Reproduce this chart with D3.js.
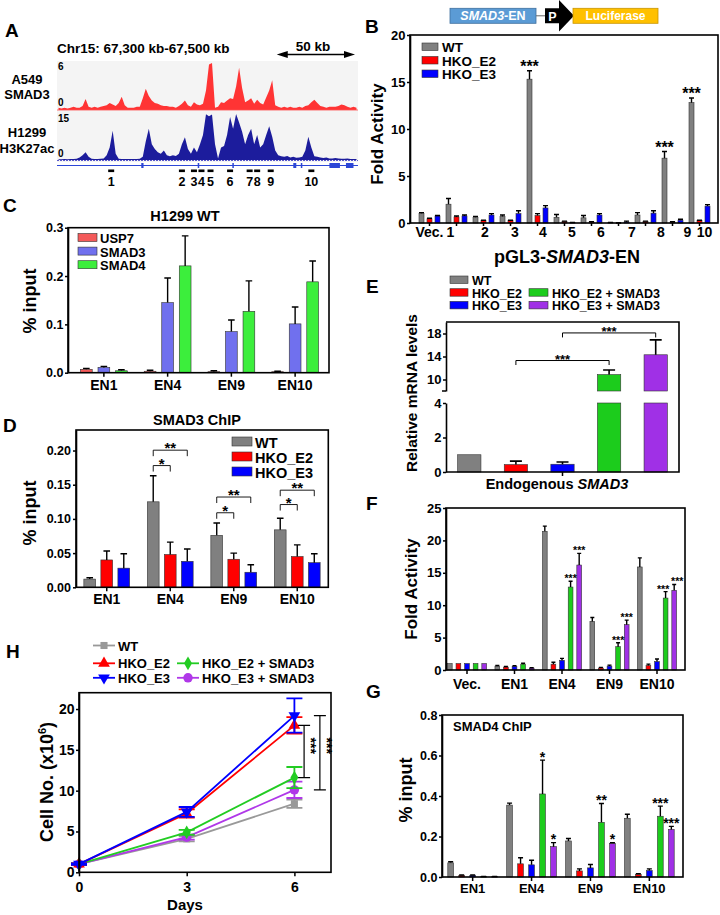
<!DOCTYPE html>
<html><head><meta charset="utf-8">
<script src="https://cdn.jsdelivr.net/npm/d3@7/dist/d3.min.js"></script>
<style>html,body{margin:0;padding:0;background:#fff}svg{display:block}</style>
</head><body>
<svg id="chart" width="720" height="915"></svg>
<script>
// ================= DATA =================
// Panel A: genome tracks (2 kb bins from 67,300 kb)
const trackStartKb = 67300, trackEndKb = 67500, binKb = 2;
const smad3Signal = [
 0.3,0.2,0.3,0.2,0.3,0.4,0.3,0.3,0.5,1.4,
 0.4,0.3,0.4,0.3,0.4,0.5,0.6,0.9,0.7,0.5,
 0.9,1.7,0.6,0.3,0.3,0.3,0.4,0.4,1.5,2.7,
 1.8,1.2,0.9,0.8,0.6,0.5,0.5,0.4,0.4,0.3,
 0.5,0.8,1.2,0.6,0.4,1.0,0.7,0.6,0.8,2.5,
 5.8,6.0,0.3,0.4,1.0,0.9,1.2,1.5,1.4,3.0,
 5.4,2.8,1.0,1.2,1.5,0.8,1.3,0.9,0.7,1.6,
 2.5,3.8,0.6,0.4,0.3,0.4,0.3,0.4,0.3,0.3,
 0.4,0.3,0.5,0.6,1.0,1.3,0.9,0.5,0.4,0.3,
 0.4,0.4,0.4,0.5,0.7,0.6,0.4,0.3,0.4,0.3];
const h3k27acSignal = [
 0.2,0.2,0.3,0.2,0.3,0.3,0.4,0.8,1.5,2.5,
 1.0,0.4,0.3,0.3,0.4,0.5,1.5,4.0,9.3,2.0,
 0.4,0.3,0.3,0.3,0.3,0.3,0.3,0.4,1.0,6.0,
 10.0,5.0,3.5,2.5,2.0,3.0,1.5,1.2,1.5,1.3,
 2.0,5.0,7.3,3.5,2.0,4.0,2.5,5.0,8.0,14.6,
 14.0,14.5,5.0,0.5,4.0,4.5,8.0,13.7,10.0,14.7,
 12.0,9.0,5.0,8.0,10.0,5.0,8.0,4.0,5.0,8.0,
 10.8,7.4,3.0,1.5,1.2,1.0,1.3,0.8,1.0,0.7,
 0.8,1.0,3.0,7.4,4.0,1.2,1.0,0.8,0.6,0.8,
 0.5,0.5,0.6,0.5,0.4,0.4,0.5,0.3,0.3,0.3];
const enhancerNames = ["1","2","3","4","5","6","7","8","9","10"];
const enhancerKb = [67336,67383,67391,67396,67402,67415,67428,67433,67442,67469];
const exonStartKb = [67356,67393.5,67416.5,67457,67462,67481,67492];
const exonEndKb   = [67357.5,67394.5,67417.5,67459,67463,67488,67497];

// Panel B
const bCats = ["Vec.","1","2","3","4","5","6","7","8","9","10"];
const bNames = ["WT","HKO_E2","HKO_E3"];
const bWT    = [1.0,2.0,0.6,0.7,15.3,0.6,0.55,0.05,0.85,6.9,12.8];
const bWTerr = [0.1,0.6,0.1,0.15,0.9,0.3,0.25,0.02,0.25,0.7,0.5];
const bE2    = [0.45,0.65,0.25,0.25,0.8,0.15,0.1,0.02,0.15,0.1,0.25];
const bE2err = [0.05,0.1,0.05,0.05,0.2,0.05,0.05,0.01,0.05,0.03,0.05];
const bE3    = [0.75,0.75,0.85,1.0,1.6,0.05,0.85,0.1,1.05,0.3,1.8];
const bE3err = [0.05,0.1,0.15,0.3,0.25,0.02,0.15,0.1,0.25,0.1,0.15];
const bWTstars = ["","","","","***","","","","","***","***"];

// Panel C
const cCats = ["EN1","EN4","EN9","EN10"];
const cNames = ["USP7","SMAD3","SMAD4"];
const cUSP7 = [0.007,0.003,0.002,0.002], cUSP7err = [0.002,0.002,0.002,0.001];
const cSMAD3 = [0.011,0.145,0.085,0.101], cSMAD3err = [0.002,0.051,0.024,0.035];
const cSMAD4 = [0.004,0.221,0.127,0.188], cSMAD4err = [0.002,0.062,0.063,0.043];

// Panel D
const dCats = ["EN1","EN4","EN9","EN10"];
const dNames = ["WT","HKO_E2","HKO_E3"];
const dWT = [0.012,0.125,0.076,0.084], dWTerr = [0.002,0.038,0.018,0.017];
const dE2 = [0.040,0.048,0.041,0.045], dE2err = [0.013,0.018,0.009,0.017];
const dE3 = [0.028,0.038,0.022,0.036], dE3err = [0.021,0.018,0.011,0.013];
const dSigCat = ["EN4","EN4","EN9","EN9","EN10","EN10"];
const dSigTo = [1,2,1,2,1,2];
const dSigLevel = [0.178,0.2005,0.109,0.132,0.121,0.142];
const dSigText = ["*","**","*","**","*","**"];

// Panel E
const eNames = ["WT","HKO_E2","HKO_E3","HKO_E2 + SMAD3","HKO_E3 + SMAD3"];
const eVals = [1.0,0.43,0.45,10.85,14.3];
const eErrs = [0,0.2,0.13,0.8,2.6];
const eSigFrom = [1,2], eSigTo = [3,4], eSigLevel = [13.3,18.1];

// Panel F
const fCats = ["Vec.","EN1","EN4","EN9","EN10"];
const fWT  = [1.0,0.6,21.4,7.5,15.9], fWTerr  = [0,0.1,0.8,0.6,1.4];
const fE2  = [1.0,0.45,0.9,0.3,0.7],  fE2err  = [0,0.1,0.3,0.1,0.2];
const fE3  = [1.0,0.55,1.5,0.6,1.3],  fE3err  = [0,0.1,0.3,0.15,0.4];
const fE2S = [1.0,0.9,12.8,3.6,11.1], fE2Serr = [0,0.15,0.9,0.6,1.0];
const fE3S = [1.0,0.3,16.2,7.0,12.3], fE3Serr = [0,0.05,1.8,0.7,0.9];
const fE2Sstars = ["","","***","***","***"];
const fE3Sstars = ["","","***","***","***"];

// Panel G
const gCats = ["EN1","EN4","EN9","EN10"];
const gWT  = [0.07,0.355,0.178,0.29],  gWTerr  = [0.005,0.01,0.012,0.02];
const gE2  = [0.008,0.065,0.03,0.012], gE2err  = [0.002,0.03,0.01,0.004];
const gE3  = [0.008,0.06,0.045,0.032], gE3err  = [0.002,0.023,0.017,0.008];
const gE2S = [0.002,0.41,0.27,0.30],   gE2Serr = [0.001,0.167,0.093,0.05];
const gE3S = [0.002,0.15,0.165,0.235], gE3Serr = [0.001,0.02,0.004,0.015];
const gE2Sstars = ["","*","**","***"];
const gE3Sstars = ["","*","*","***"];

// Panel H
const hDays = [0,3,6];
const hNames = ["WT","HKO_E2","HKO_E3","HKO_E2 + SMAD3","HKO_E3 + SMAD3"];
const hWT  = [1.0,4.1,8.4],   hWTerr  = [0.1,0.3,0.5];
const hE2  = [1.0,7.2,18.0],  hE2err  = [0.1,0.5,1.0];
const hE3  = [1.0,7.4,19.2],  hE3err  = [0.1,0.6,2.1];
const hE2S = [1.0,4.9,11.6],  hE2Serr = [0.1,0.3,1.3];
const hE3S = [1.0,4.3,10.1],  hE3Serr = [0.1,0.3,1.0];
const hSigX = [6.27,6.71];

// ================= DRAWING =================
const svg = d3.select("#chart");
const FONT = '"Liberation Sans", Arial, Helvetica, sans-serif';
svg.attr("font-family", FONT).attr("font-weight", "bold");

const GRAY = "#808080", RED = "#ff0000", BLUE = "#0000ff", GREEN = "#1ccc1c", PURPLE = "#a030e6";

function label(x, y, s, fs, anchor) {
  return svg.append("text").attr("x", x).attr("y", y).attr("font-size", fs)
    .attr("text-anchor", anchor || "start").text(s);
}
function richText(x, y, fs, parts, anchor, rotate) {
  const t = svg.append("text").attr("font-size", fs).attr("text-anchor", anchor || "middle");
  if (rotate) t.attr("transform", `translate(${x},${y}) rotate(-90)`).attr("dy", "0.35em");
  else t.attr("x", x).attr("y", y);
  parts.forEach(p => {
    const ts = t.append("tspan").text(p.t);
    if (p.i) ts.attr("font-style", "italic");
    if (p.fs) ts.attr("font-size", p.fs);
    if (p.dy) ts.attr("dy", p.dy);
  });
  return t;
}
function frame(x0, y0, x1, y1) {
  svg.append("rect").attr("x", x0).attr("y", y0).attr("width", x1 - x0).attr("height", y1 - y0)
    .attr("fill", "none").attr("stroke", "#000").attr("stroke-width", 1.6);
}
function axisL(scale, x, vals, fmt, fs, size, pad) {
  const g = svg.append("g").attr("transform", `translate(${x},0)`)
    .call(d3.axisLeft(scale).tickValues(vals).tickFormat(fmt).tickSize(size).tickSizeOuter(0).tickPadding(pad));
  g.attr("font-family", FONT).attr("font-size", fs).attr("font-weight", "bold");
  g.select(".domain").attr("stroke-width", 1.6);
  g.selectAll(".tick line").attr("stroke-width", 1.5);
  return g;
}
function axisB(scale, y, fs, size, pad, vals, fmt) {
  const ax = d3.axisBottom(scale).tickSize(size).tickSizeOuter(0).tickPadding(pad);
  if (vals) ax.tickValues(vals);
  if (fmt) ax.tickFormat(fmt);
  const g = svg.append("g").attr("transform", `translate(0,${y})`).call(ax);
  g.attr("font-family", FONT).attr("font-size", fs).attr("font-weight", "bold");
  g.select(".domain").remove();
  g.selectAll(".tick line").attr("stroke-width", 1.5);
  return g;
}
function groupedBars(cats, seriesVals, seriesErrs, colors, outer, inner, y, capW, stroke) {
  const g = svg.append("g");
  const cx = (i, s) => outer(cats[i]) + outer.bandwidth() / 2 + inner(s) + inner.bandwidth() / 2;
  seriesVals.forEach((vals, s) => {
    const data = vals.map((v, i) => ({ v, e: seriesErrs[s][i], i }));
    g.append("g").selectAll("rect").data(data).join("rect")
      .attr("x", d => cx(d.i, s) - inner.bandwidth() / 2)
      .attr("y", d => y(d.v))
      .attr("width", inner.bandwidth())
      .attr("height", d => Math.max(0.6, y(0) - y(d.v)))
      .attr("fill", colors[s]).attr("stroke", stroke || "#333").attr("stroke-width", 0.6);
    g.append("g").selectAll("path").data(data.filter(d => d.e > 0)).join("path")
      .attr("d", d => `M${cx(d.i, s)},${y(d.v)}V${y(d.v + d.e)}M${cx(d.i, s) - capW},${y(d.v + d.e)}H${cx(d.i, s) + capW}`)
      .attr("stroke", "#000").attr("stroke-width", 1.4).attr("fill", "none");
  });
  return cx;
}
function starLabels(texts, vals, errs, s, cx, y, fs, off, dxFn) {
  svg.append("g").selectAll("text")
    .data(texts.map((t, i) => ({ t, i })).filter(d => d.t)).join("text")
    .attr("x", d => cx(d.i, s) + (dxFn ? dxFn(d.i) : 0)).attr("y", d => y(vals[d.i] + errs[d.i]) + off)
    .attr("text-anchor", "middle").attr("font-size", fs).text(d => d.t);
}
function legendBoxes(items, x, y0, dy, w, h, fs, textGap) {
  items.forEach((it, k) => {
    const yy = y0 + k * dy;
    svg.append("rect").attr("x", x).attr("y", yy - h).attr("width", w).attr("height", h)
      .attr("fill", it.c).attr("stroke", "#333").attr("stroke-width", 0.6);
    label(x + w + textGap, yy + 1.5, it.t, fs);
  });
}

// ---------- Panel A ----------
label(5, 37, "A", 19);
label(57, 53, "Chr15: 67,300 kb-67,500 kb", 13.5);
label(313, 51, "50 kb", 13.5, "middle");
const xs = d3.scaleLinear().domain([trackStartKb, trackEndKb]).range([57, 358]);
{
  const a0 = xs(67446), a1 = xs(67498), ay = 54.5;
  svg.append("line").attr("x1", a0 + 6).attr("x2", a1 - 6).attr("y1", ay).attr("y2", ay).attr("stroke", "#000").attr("stroke-width", 1.5);
  svg.append("path").attr("d", `M${a0},${ay}L${a0 + 11},${ay - 3.5}L${a0 + 11},${ay + 3.5}Z`).attr("fill", "#000");
  svg.append("path").attr("d", `M${a1},${ay}L${a1 - 11},${ay - 3.5}L${a1 - 11},${ay + 3.5}Z`).attr("fill", "#000");
}
svg.append("rect").attr("x", xs(trackStartKb)).attr("y", 61).attr("width", xs(trackEndKb) - xs(trackStartKb)).attr("height", 101).attr("fill", "#f4f4f4");
const yRed = d3.scaleLinear().domain([0, 6]).range([110, 63]);
const yBlu = d3.scaleLinear().domain([0, 15]).range([160, 113]);
const binX = i => xs(trackStartKb + binKb * i + binKb / 2);
svg.append("path").datum(smad3Signal)
  .attr("d", d3.area().x((d, i) => binX(i)).y0(yRed(0)).y1(d => yRed(d)).curve(d3.curveLinear))
  .attr("fill", "#ff3434");
svg.append("path").datum(h3k27acSignal)
  .attr("d", d3.area().x((d, i) => binX(i)).y0(yBlu(0)).y1(d => yBlu(d)).curve(d3.curveLinear))
  .attr("fill", "#1c1c9c");
svg.append("line").attr("x1", xs(trackStartKb)).attr("x2", xs(trackEndKb)).attr("y1", yRed(0)).attr("y2", yRed(0)).attr("stroke", "#ff5050").attr("stroke-width", 0.8);
svg.append("line").attr("x1", xs(trackStartKb)).attr("x2", xs(trackEndKb)).attr("y1", yBlu(0) + 0.5).attr("y2", yBlu(0) + 0.5).attr("stroke", "#3030c0").attr("stroke-width", 0.8).attr("stroke-dasharray", "2,1");
label(58, 70, "6", 10); label(58, 106, "0", 10);
label(58, 122, "15", 10); label(58, 157, "0", 10);
label(27, 83.5, "A549", 13, "middle"); label(27, 99, "SMAD3", 13, "middle");
label(27, 137, "H1299", 13, "middle"); label(27, 153, "H3K27ac", 13, "middle");
// gene track
svg.append("line").attr("x1", xs(trackStartKb)).attr("x2", xs(trackEndKb)).attr("y1", 165.5).attr("y2", 165.5).attr("stroke", "#2c46d6").attr("stroke-width", 1);
svg.append("g").selectAll("rect").data(exonStartKb).join("rect")
  .attr("x", (d) => xs(d)).attr("width", (d, i) => xs(exonEndKb[i]) - xs(d)).attr("y", 163).attr("height", 5).attr("fill", "#2c46d6");
// enhancers
svg.append("g").selectAll("rect").data(enhancerKb).join("rect")
  .attr("x", d => xs(d) - 3).attr("width", 6).attr("y", 169.5).attr("height", 2.6).attr("fill", "#000");
svg.append("g").selectAll("text").data(enhancerNames).join("text")
  .attr("x", (d, i) => xs(enhancerKb[i])).attr("y", 186).attr("text-anchor", "middle").attr("font-size", 12.5).text(d => d);

// ---------- Panel B ----------
label(365, 33, "B", 19);
// construct schematic
svg.append("rect").attr("x", 450).attr("y", 8.3).attr("width", 86).attr("height", 15).attr("fill", "#5b9bd5").attr("stroke", "#3f6f9f").attr("stroke-width", 0.8);
richText(493, 20.3, 12.5, [{ t: "SMAD3", i: true }, { t: "-EN" }]).attr("fill", "#fff");
svg.append("line").attr("x1", 536).attr("x2", 546).attr("y1", 15.8).attr("y2", 15.8).attr("stroke", "#666").attr("stroke-width", 1);
svg.append("path").attr("d", "M545,8.3H559V0L574,15.8L559,31.5V23.3H545Z").attr("fill", "#000");
label(552.5, 20.5, "P", 12.5, "middle").attr("fill", "#fff");
svg.append("rect").attr("x", 573).attr("y", 8.3).attr("width", 85).attr("height", 15).attr("fill", "#ffc000").attr("stroke", "#c89500").attr("stroke-width", 0.8);
label(615.5, 20.3, "Luciferase", 12, "middle").attr("fill", "#fff");

const bY = d3.scaleLinear().domain([0, 20]).range([223, 35]);
const bX = d3.scaleBand().domain(bCats).range([416, 713]);
const bIn = d3.scaleBand().domain([0, 1, 2]).range([-10.5, 10.5]).paddingInner(0.375);
const bcx = groupedBars(bCats, [bWT, bE2, bE3], [bWTerr, bE2err, bE3err], [GRAY, RED, BLUE], bX, bIn, bY, 2.5);
starLabels(bWTstars, bWT, bWTerr, 0, bcx, bY, 16, 1);
frame(410, 35, 718, 223);
axisL(bY, 410, [0, 5, 10, 15, 20], d3.format("d"), 13, 3, 1.5);
{
  const nudge = [0, -6, 1.5, 4.5, 5.5, 7.5, 9.5, 13.5, 15.5, 15, 5];
  const g = axisB(bX, 223, 14, 3, 1);
  g.selectAll(".tick text").attr("dx", (d, i) => nudge[i]);
}
richText(567, 263, 18, [{ t: "pGL3-" }, { t: "SMAD3", i: true }, { t: "-EN" }]);
richText(377, 134, 17, [{ t: "Fold Activity" }], "middle", true);
legendBoxes([{ t: "WT", c: GRAY }, { t: "HKO_E2", c: RED }, { t: "HKO_E3", c: BLUE }], 422, 50.5, 13.5, 16, 7.5, 13.5, 4);

// ---------- Panel C ----------
label(3, 212, "C", 19);
label(185, 221, "H1299 WT", 14.5, "middle");
const cY = d3.scaleLinear().domain([0, 0.3]).range([372.7, 227.7]);
const cX = d3.scaleBand().domain(cCats).range([72, 327]);
const cIn = d3.scaleBand().domain([0, 1, 2]).range([-23.4, 23.4]).paddingInner(0.33);
groupedBars(cCats, [cUSP7, cSMAD3, cSMAD4], [cUSP7err, cSMAD3err, cSMAD4err], ["#f45a5a", "#7070ee", "#3cee3c"], cX, cIn, cY, 3.3);
frame(68, 227.7, 329, 372.7);
axisL(cY, 68, [0, 0.1, 0.2, 0.3], d3.format(".1f"), 12.5, 3, 1.5);
axisB(cX, 372.7, 14, 4, 3);
richText(30, 301, 18, [{ t: "% input" }], "middle", true);
legendBoxes([{ t: "USP7", c: "#f45a5a" }, { t: "SMAD3", c: "#7070ee" }, { t: "SMAD4", c: "#3cee3c" }], 78, 241.5, 13.6, 19, 8, 13, 3);

// ---------- Panel D ----------
label(3, 432, "D", 19);
label(197, 425, "SMAD3 ChIP", 14.5, "middle");
const dY = d3.scaleLinear().domain([0, 0.23]).range([587.3, 430]);
const dX = d3.scaleBand().domain(dCats).range([75, 329]);
const dIn = d3.scaleBand().domain([0, 1, 2]).range([-22.9, 22.9]).paddingInner(0.31);
const dcx = groupedBars(dCats, [dWT, dE2, dE3], [dWTerr, dE2err, dE3err], [GRAY, RED, BLUE], dX, dIn, dY, 3.3);
{
  const g = svg.append("g");
  dSigCat.forEach((c, k) => {
    const i = dCats.indexOf(c);
    const x0 = dcx(i, 0), x1 = dcx(i, dSigTo[k]), yy = dY(dSigLevel[k]);
    g.append("path").attr("d", `M${x0},${yy + 6}V${yy}H${x1}V${yy + 6}`).attr("fill", "none").attr("stroke", "#000").attr("stroke-width", 0.9);
    g.append("text").attr("x", (x0 + x1) / 2).attr("y", yy + 3).attr("text-anchor", "middle").attr("font-size", 15).text(dSigText[k]);
  });
}
frame(76, 430, 328.3, 587.3);
axisL(dY, 76, [0, 0.05, 0.1, 0.15, 0.2], d3.format(".2f"), 12.5, 3, 2);
axisB(dX, 587.3, 14, 4, 3);
richText(30, 513, 18, [{ t: "% input" }], "middle", true);
legendBoxes([{ t: "WT", c: GRAY }, { t: "HKO_E2", c: RED }, { t: "HKO_E3", c: BLUE }], 232, 446, 15, 20, 9, 14.5, 3);

// ---------- Panel E ----------
label(366, 293, "E", 19);
legendBoxes([{ t: "WT", c: GRAY }, { t: "HKO_E2", c: RED }, { t: "HKO_E3", c: BLUE }], 450, 283.5, 12.7, 18, 7.5, 12.5, 4);
legendBoxes([{ t: "HKO_E2 + SMAD3", c: GREEN }, { t: "HKO_E3 + SMAD3", c: PURPLE }], 529, 296.2, 12.7, 19, 7.5, 12.5, 4);
const eLow = d3.scaleLinear().domain([0, 4]).range([472, 403]);
const eUp = d3.scaleLinear().domain([8, 20]).range([391, 322]);
const eX = d3.scaleBand().domain(eNames).range([446, 679]).paddingInner(0.5).paddingOuter(0.25);
const eColors = [GRAY, RED, BLUE, GREEN, PURPLE];
{
  const g = svg.append("g");
  const data = eVals.map((v, i) => ({ v, e: eErrs[i], i }));
  const ecx = i => eX(eNames[i]) + eX.bandwidth() / 2;
  g.selectAll("rect.low").data(data).join("rect").attr("class", "low")
    .attr("x", d => eX(eNames[d.i])).attr("width", eX.bandwidth())
    .attr("y", d => eLow(Math.min(d.v, 4))).attr("height", d => eLow(0) - eLow(Math.min(d.v, 4)))
    .attr("fill", d => eColors[d.i]).attr("stroke", "#333").attr("stroke-width", 0.6);
  g.selectAll("rect.up").data(data.filter(d => d.v > 8)).join("rect").attr("class", "up")
    .attr("x", d => eX(eNames[d.i])).attr("width", eX.bandwidth())
    .attr("y", d => eUp(d.v)).attr("height", d => eUp(8) - eUp(d.v))
    .attr("fill", d => eColors[d.i]).attr("stroke", "#333").attr("stroke-width", 0.6);
  const ys = v => v > 8 ? eUp(v) : eLow(v);
  g.selectAll("path.err").data(data.filter(d => d.e > 0)).join("path").attr("class", "err")
    .attr("d", d => `M${ecx(d.i)},${ys(d.v)}V${ys(d.v + d.e)}M${ecx(d.i) - 6},${ys(d.v + d.e)}H${ecx(d.i) + 6}`)
    .attr("stroke", "#000").attr("stroke-width", 1.6).attr("fill", "none");
  eSigFrom.forEach((f, k) => {
    const x0 = ecx(f), x1 = ecx(eSigTo[k]), yy = eUp(eSigLevel[k]);
    g.append("path").attr("d", `M${x0},${yy + 4.5}V${yy}H${x1}V${yy + 4.5}`).attr("fill", "none").attr("stroke", "#000").attr("stroke-width", 1);
    g.append("text").attr("x", (x0 + x1) / 2).attr("y", yy + 3.5).attr("text-anchor", "middle").attr("font-size", 13).text("***");
  });
}
svg.append("path").attr("d", "M446,322H679V472H446").attr("fill", "none").attr("stroke", "#000").attr("stroke-width", 1.6);
axisL(eLow, 446, [0, 2, 4], d3.format("d"), 13, 3, 1.5);
axisL(eUp, 446, [10, 14, 18], d3.format("d"), 13, 3, 1.5);
svg.append("line").attr("x1", 442).attr("x2", 446).attr("y1", eUp(8)).attr("y2", eUp(8)).attr("stroke", "#000").attr("stroke-width", 1.5);
svg.append("line").attr("x1", eX(eNames[2]) + eX.bandwidth() / 2).attr("x2", eX(eNames[2]) + eX.bandwidth() / 2).attr("y1", 472).attr("y2", 476).attr("stroke", "#000").attr("stroke-width", 1.5);
richText(557, 489, 14.5, [{ t: "Endogenous " }, { t: "SMAD3", i: true }]);
richText(412, 393, 15.5, [{ t: "Relative mRNA levels" }], "middle", true);

// ---------- Panel F ----------
label(366, 510, "F", 19);
const fY = d3.scaleLinear().domain([0, 25]).range([670, 508]);
const fX = d3.scaleBand().domain(fCats).range([443.25, 680.75]);
const fIn = d3.scaleBand().domain([0, 1, 2, 3, 4]).range([-19.55, 19.55]).paddingInner(0.45);
const fcx = groupedBars(fCats, [fWT, fE2, fE3, fE2S, fE3S], [fWTerr, fE2err, fE3err, fE2Serr, fE3Serr], [GRAY, RED, BLUE, GREEN, PURPLE], fX, fIn, fY, 2);
// the last group's two star labels sit side by side (spread apart slightly)
starLabels(fE2Sstars, fE2S, fE2Serr, 3, fcx, fY, 10.5, 1, i => i === fCats.length - 1 ? -2.5 : 0);
starLabels(fE3Sstars, fE3S, fE3Serr, 4, fcx, fY, 10.5, 1, i => i === fCats.length - 1 ? 3 : 0);
frame(446, 508, 685, 670);
axisL(fY, 446, [0, 5, 10, 15, 20, 25], d3.format("d"), 13, 3, 1.5);
axisB(fX, 670, 14, 4, 5);
richText(411, 589, 17, [{ t: "Fold Activity" }], "middle", true);

// ---------- Panel G ----------
label(366, 698, "G", 19);
const gY = d3.scaleLinear().domain([0, 0.8]).range([877, 715]);
const gX = d3.scaleBand().domain(gCats).range([443.2, 678.8]);
const gIn = d3.scaleBand().domain([0, 1, 2, 3, 4]).range([-24.85, 24.85]).paddingInner(0.48);
const gcx = groupedBars(gCats, [gWT, gE2, gE3, gE2S, gE3S], [gWTerr, gE2err, gE3err, gE2Serr, gE3Serr], [GRAY, RED, BLUE, GREEN, PURPLE], gX, gIn, gY, 2.5);
starLabels(gE2Sstars, gE2S, gE2Serr, 3, gcx, gY, 14, 1.5);
starLabels(gE3Sstars, gE3S, gE3Serr, 4, gcx, gY, 14, 1.5);
frame(442, 715, 683, 877);
axisL(gY, 442, [0, 0.2, 0.4, 0.6, 0.8], d3.format(".1f"), 12.5, 3, 1.5);
axisB(gX, 877, 13, 4, 3);
label(453, 731, "SMAD4 ChIP", 13);
richText(406, 790, 18, [{ t: "% input" }], "middle", true);

// ---------- Panel H ----------
label(6, 658, "H", 19);
const hX = d3.scaleLinear().domain([0, 7]).range([79, 330.3]);
const hY = d3.scaleLinear().domain([0, 22]).range([872.3, 692.7]);
const hSeries = [
  { v: hWT, e: hWTerr, c: "#999999", sym: d3.symbolSquare, size: 50, rot: 0 },
  { v: hE3S, e: hE3Serr, c: "#b038e8", sym: d3.symbolCircle, size: 70, rot: 0 },
  { v: hE2S, e: hE2Serr, c: "#22cc22", sym: d3.symbolDiamond, size: 55, rot: 0 },
  { v: hE2, e: hE2err, c: "#ff0000", sym: d3.symbolTriangle, size: 60, rot: 0 },
  { v: hE3, e: hE3err, c: "#0000ff", sym: d3.symbolTriangle, size: 60, rot: 180 }
];
hSeries.forEach(s => {
  const g = svg.append("g");
  const pts = hDays.map((d, i) => ({ d, v: s.v[i], e: s.e[i] }));
  g.append("path").datum(pts).attr("d", d3.line().x(p => hX(p.d)).y(p => hY(p.v)))
    .attr("fill", "none").attr("stroke", s.c).attr("stroke-width", 1.8);
  g.selectAll("path.err").data(pts).join("path").attr("class", "err")
    .attr("d", p => `M${hX(p.d)},${hY(p.v - p.e)}V${hY(p.v + p.e)}M${hX(p.d) - 8},${hY(p.v + p.e)}H${hX(p.d) + 8}M${hX(p.d) - 8},${hY(p.v - p.e)}H${hX(p.d) + 8}`)
    .attr("stroke", s.c).attr("stroke-width", 1.8).attr("fill", "none");
  g.selectAll("path.pt").data(pts).join("path").attr("class", "pt")
    .attr("d", d3.symbol().type(s.sym).size(s.size))
    .attr("transform", p => `translate(${hX(p.d)},${hY(p.v)}) rotate(${s.rot})`)
    .attr("fill", s.c);
});
{
  const pairs = [[hE2, hE2S], [hE3, hE3S]];
  pairs.forEach((p, k) => {
    const x = hX(hSigX[k]), y0 = hY(p[0][2]), y1 = hY(p[1][2]);
    svg.append("path").attr("d", `M${x - 6},${y0}H${x + 6}M${x},${y0}V${y1}M${x - 6},${y1}H${x + 6}`)
      .attr("fill", "none").attr("stroke", "#000").attr("stroke-width", 1.2);
    svg.append("text").attr("transform", `translate(${x + 2},${hY(15.5)}) rotate(90)`)
      .attr("text-anchor", "middle").attr("font-size", 14).text("***");
  });
}
frame(79, 692.7, 331, 872.3);
axisL(hY, 79, [0, 5, 10, 15, 20], d3.format("d"), 14, 3, 1.5);
axisB(hX, 872.3, 14, 4, 6, [0, 3, 6], d3.format("d"));
label(185, 910, "Days", 15, "middle");
richText(47, 782, 18, [{ t: "Cell No. (x10" }, { t: "6", fs: 11, dy: "-7" }, { t: ")", dy: "7" }], "middle", true);
{
  const leg = [
    { t: "WT", c: "#999999", sym: d3.symbolSquare, size: 50, rot: 0, x: 93, y: 645.5 },
    { t: "HKO_E2", c: "#ff0000", sym: d3.symbolTriangle, size: 60, rot: 0, x: 93, y: 663.3 },
    { t: "HKO_E3", c: "#0000ff", sym: d3.symbolTriangle, size: 60, rot: 180, x: 93, y: 677.8 },
    { t: "HKO_E2 + SMAD3", c: "#22cc22", sym: d3.symbolDiamond, size: 55, rot: 0, x: 177, y: 663.3 },
    { t: "HKO_E3 + SMAD3", c: "#b038e8", sym: d3.symbolCircle, size: 70, rot: 0, x: 177, y: 677.8 }
  ];
  leg.forEach(l => {
    svg.append("line").attr("x1", l.x).attr("x2", l.x + 22).attr("y1", l.y).attr("y2", l.y).attr("stroke", l.c).attr("stroke-width", 1.8);
    svg.append("path").attr("d", d3.symbol().type(l.sym).size(l.size)()).attr("transform", `translate(${l.x + 11},${l.y}) rotate(${l.rot})`).attr("fill", l.c);
    label(l.x + 25, l.y + 5, l.t, 13);
  });
}
</script>
</body></html>
